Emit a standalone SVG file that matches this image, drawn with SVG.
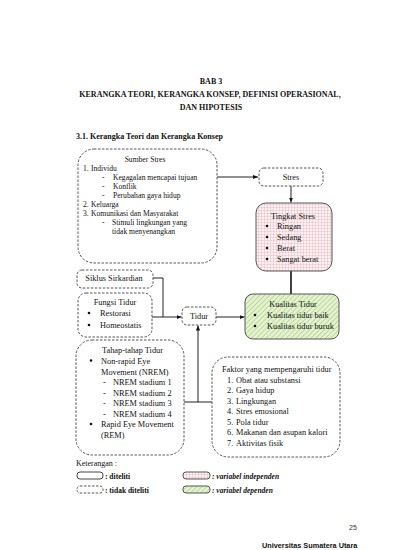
<svg xmlns="http://www.w3.org/2000/svg" width="400" height="550" viewBox="0 0 400 550">
<defs>
<style>
text{font-family:"Liberation Serif","Times New Roman",serif;font-size:8.3px;fill:#111}
.s{font-size:7.6px}
.h{font-weight:bold;font-size:8px}
.c{text-anchor:middle}
.dash{fill:#fff;stroke:#555;stroke-width:1;stroke-dasharray:2.5 1.5}
.solid{fill:#fff;stroke:#444;stroke-width:1}
.ind{fill:url(#grid);stroke:#555;stroke-width:1}
.dep{fill:url(#hatch);stroke:#555;stroke-width:1}
.ln{fill:none;stroke:#222;stroke-width:1}
.lg{font-weight:bold;font-size:7.5px}
.lgi{font-weight:bold;font-style:italic;font-size:7.5px}
.ft{font-family:"Liberation Sans",Arial,sans-serif}
</style>
<pattern id="grid" width="3" height="3" patternUnits="userSpaceOnUse">
<rect width="3" height="3" fill="#fbf0f2"/>
<path d="M0 0H3M0 0V3" stroke="#d9a0aa" stroke-width="0.6"/>
</pattern>
<pattern id="hatch" width="3.5" height="3.5" patternUnits="userSpaceOnUse" patternTransform="rotate(45)">
<rect width="3.5" height="3.5" fill="#e4f2d2"/>
<path d="M0 0V3.5" stroke="#9cc870" stroke-width="1.1"/>
</pattern>
<marker id="arr" viewBox="0 0 6 6" refX="6" refY="3" markerWidth="5" markerHeight="5" orient="auto">
<path d="M0 0.5L6 3L0 5.5Z" fill="#111"/>
</marker>
</defs>
<rect width="400" height="550" fill="#fff"/>

<g id="title">
<text class="h c" x="211" y="84">BAB 3</text>
<text class="h c" x="210" y="97">KERANGKA TEORI, KERANGKA KONSEP, DEFINISI OPERASIONAL,</text>
<text class="h c" x="211" y="110">DAN HIPOTESIS</text>
<text class="h" x="76" y="139">3.1. Kerangka Teori dan Kerangka Konsep</text>
</g>

<g id="connectors">
<line class="ln" x1="217" y1="177" x2="258" y2="177" marker-end="url(#arr)"/>
<line class="ln" x1="291" y1="186" x2="291" y2="202.5" marker-end="url(#arr)"/>
<line x1="291" y1="271" x2="291" y2="294" stroke="#111" stroke-width="1.6"/>
<polyline class="ln" points="153,278 163,278 163,317"/>
<line class="ln" x1="152" y1="317" x2="181.5" y2="317" marker-end="url(#arr)"/>
<line class="ln" x1="216" y1="317" x2="244.5" y2="317" marker-end="url(#arr)"/>
<line class="ln" x1="184" y1="402" x2="212" y2="402"/>
<line class="ln" x1="198" y1="402" x2="198" y2="325.5" marker-end="url(#arr)"/>
</g>

<g id="sumber-stres">
<rect class="dash" x="78" y="149" width="139" height="114" rx="16"/>
<text class="s c" x="145" y="162">Sumber Stres</text>
<text class="s" x="83" y="171">1.</text><text class="s" x="91" y="171">Individu</text>
<text class="s" x="102" y="180">-</text><text class="s" x="113" y="180">Kegagalan mencapai tujuan</text>
<text class="s" x="102" y="189">-</text><text class="s" x="113" y="189">Konflik</text>
<text class="s" x="102" y="198">-</text><text class="s" x="113" y="198">Perubahan gaya hidup</text>
<text class="s" x="83" y="207">2.</text><text class="s" x="91" y="207">Keluarga</text>
<text class="s" x="83" y="216">3.</text><text class="s" x="91" y="216">Komunikasi dan Masyarakat</text>
<text class="s" x="102" y="225">-</text><text class="s" x="112" y="225">Stimuli lingkungan yang</text>
<text class="s" x="112" y="234">tidak menyenangkan</text>
</g>

<g id="stres">
<rect class="dash" x="259" y="168" width="64" height="18" rx="5"/>
<text class="c" x="291" y="180">Stres</text>
</g>

<g id="tingkat-stres">
<rect class="ind" x="256" y="203" width="76" height="68" rx="10"/>
<text class="c" x="293" y="219">Tingkat Stres</text>
<circle cx="267" cy="226" r="1.3" fill="#111"/><text x="277" y="229">Ringan</text>
<circle cx="267" cy="237" r="1.3" fill="#111"/><text x="277" y="240">Sedang</text>
<circle cx="267" cy="248" r="1.3" fill="#111"/><text x="277" y="251">Berat</text>
<circle cx="267" cy="259" r="1.3" fill="#111"/><text x="277" y="262">Sangat berat</text>
</g>

<g id="kualitas-tidur">
<rect class="dep" x="245" y="294" width="94" height="45" rx="8"/>
<text class="c" x="293" y="307">Kualitas Tidur</text>
<circle cx="255" cy="315" r="1.3" fill="#111"/><text x="267" y="318">Kualitas tidur baik</text>
<circle cx="255" cy="326" r="1.3" fill="#111"/><text x="267" y="329">Kualitas tidur buruk</text>
</g>

<g id="siklus">
<rect class="dash" x="77" y="270" width="76" height="18" rx="5"/>
<text class="c" x="114" y="281">Siklus Sirkardian</text>
</g>

<g id="fungsi-tidur">
<rect class="dash" x="78" y="293" width="74" height="44" rx="8"/>
<text class="c" x="115" y="305">Fungsi Tidur</text>
<circle cx="89" cy="313" r="1.3" fill="#111"/><text x="100" y="316">Restorasi</text>
<circle cx="89" cy="325" r="1.3" fill="#111"/><text x="100" y="328">Homeostatis</text>
</g>

<g id="tidur">
<rect class="dash" x="182" y="307" width="34" height="18" rx="5"/>
<text class="c" x="199" y="319">Tidur</text>
</g>

<g id="tahap-tidur">
<rect class="dash" x="76" y="340" width="108" height="115" rx="16"/>
<text x="102" y="353">Tahap-tahap Tidur</text>
<circle cx="91" cy="360.5" r="1.3" fill="#111"/><text x="101" y="363.5">Non-rapid Eye</text>
<text x="101" y="374.5">Movement (NREM)</text>
<text x="103" y="385">-</text><text x="113" y="385">NREM stadium 1</text>
<text x="103" y="395.5">-</text><text x="113" y="395.5">NREM stadium 2</text>
<text x="103" y="406">-</text><text x="113" y="406">NREM stadium 3</text>
<text x="103" y="416.5">-</text><text x="113" y="416.5">NREM stadium 4</text>
<circle cx="91" cy="424" r="1.3" fill="#111"/><text x="101" y="427">Rapid Eye Movement</text>
<text x="101" y="438">(REM)</text>
</g>

<g id="faktor">
<rect class="dash" x="212" y="357" width="128" height="100" rx="16"/>
<text x="222" y="372">Faktor yang mempengaruhi tidur</text>
<text x="227" y="382.5">1.</text><text x="236" y="382.5">Obat atau substansi</text>
<text x="227" y="393">2.</text><text x="236" y="393">Gaya hidup</text>
<text x="227" y="403.5">3.</text><text x="236" y="403.5">Lingkungan</text>
<text x="227" y="414">4.</text><text x="236" y="414">Stres emosional</text>
<text x="227" y="424.5">5.</text><text x="236" y="424.5">Pola tidur</text>
<text x="227" y="435">6.</text><text x="236" y="435">Makanan dan asupan kalori</text>
<text x="227" y="445.5">7.</text><text x="236" y="445.5">Aktivitas fisik</text>
</g>

<g id="legend">
<text x="76" y="466" style="font-size:8px">Keterangan :</text>
<rect class="solid" x="77" y="472" width="26" height="7" rx="3"/>
<text class="lg" x="105" y="479">: diteliti</text>
<rect class="dash" x="77" y="486" width="26" height="7" rx="3"/>
<text class="lg" x="105" y="493">: tidak diteliti</text>
<rect class="ind" x="183" y="472" width="27" height="7" rx="3"/>
<text class="lgi" x="212" y="479">: variabel independen</text>
<rect class="dep" x="183" y="486" width="27" height="7" rx="3"/>
<text class="lgi" x="212" y="493">: variabel dependen</text>
</g>

<g id="footer">
<text class="ft" x="349" y="530" style="font-size:7px;fill:#333">25</text>
<text class="ft" x="262" y="548" style="font-size:7.3px;font-weight:bold">Universitas Sumatera Utara</text>
</g>
</svg>
